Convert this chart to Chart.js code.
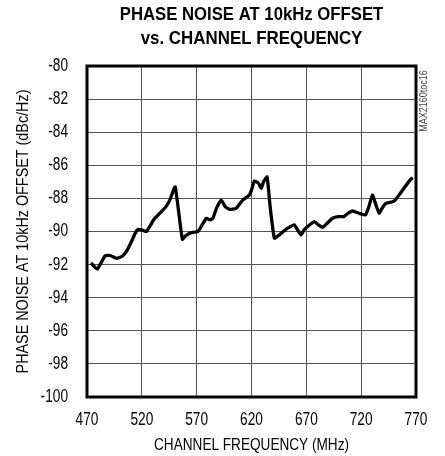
<!DOCTYPE html>
<html>
<head>
<meta charset="utf-8">
<script src="https://cdn.jsdelivr.net/npm/chart.js@4.4.1/dist/chart.umd.min.js"></script>
<style>
html,body{margin:0;padding:0;background:#fff;}
#wrap{position:relative;width:445px;height:456px;}
</style>
</head>
<body>
<div id="wrap"><canvas id="c"></canvas></div>
<script>
const titleLines = ["PHASE NOISE AT 10kHz OFFSET", "vs. CHANNEL FREQUENCY"];
const xTitle = "CHANNEL FREQUENCY (MHz)";
const yTitle = "PHASE NOISE AT 10kHz OFFSET (dBc/Hz)";
const tocLabel = "MAX2160toc16";
const xTicks = [470, 520, 570, 620, 670, 720, 770];
const yTicks = [-100, -98, -96, -94, -92, -90, -88, -86, -84, -82, -80];

const freqMHz = [473.6, 479.4, 486.4, 491, 497, 502, 506, 510.6, 514, 516.7, 520, 524.2, 528, 531.8, 535, 539.4, 542, 545.5, 549.4, 550.5, 553, 557, 560, 563.6, 567, 571.2, 575, 578.8, 582, 584.8, 588, 592.4, 596, 600, 606, 612, 618, 620, 622.7, 626.6, 628.8, 631, 634.2, 637, 640.9, 645.5, 649, 653, 659, 662, 665.2, 668, 671.2, 677.3, 681, 684.9, 689, 694, 699, 704, 708, 712, 718, 724, 727, 730.3, 733, 736.4, 739, 742.5, 748.5, 751, 754.5, 760, 765, 767];
const noiseDbc = [-91.9, -92.27, -91.48, -91.45, -91.62, -91.5, -91.2, -90.6, -90.1, -89.87, -89.9, -90.0, -89.6, -89.2, -89.0, -88.7, -88.5, -88.1, -87.4, -87.3, -88.5, -90.47, -90.25, -90.1, -90.05, -90.0, -89.6, -89.2, -89.3, -89.2, -88.6, -88.1, -88.5, -88.66, -88.6, -88.1, -87.8, -87.5, -86.95, -87.1, -87.4, -87.0, -86.7, -88.5, -90.4, -90.2, -90.0, -89.8, -89.6, -89.9, -90.2, -89.9, -89.7, -89.4, -89.6, -89.75, -89.5, -89.2, -89.1, -89.1, -88.9, -88.76, -88.9, -89.0, -88.5, -87.8, -88.3, -88.9, -88.6, -88.3, -88.2, -88.1, -87.8, -87.3, -86.85, -86.75];

const FONT = "'Liberation Sans', Arial, Helvetica, sans-serif";

// horizontal condensing of canvas text to imitate a condensed typeface
const textScale = {};
textScale[titleLines[0]] = 0.88;
textScale[titleLines[1]] = 0.89;
textScale[xTitle] = 0.80;
textScale[yTitle] = 0.845;
textScale[tocLabel] = 0.9;
const DEFAULT_SCALE = 0.76;
const origFill = CanvasRenderingContext2D.prototype.fillText;
CanvasRenderingContext2D.prototype.fillText = function(text, x, y, maxWidth) {
  const s = (textScale[text] !== undefined) ? textScale[text] : DEFAULT_SCALE;
  this.save();
  this.translate(x, y);
  this.scale(s, 1);
  if (maxWidth !== undefined) origFill.call(this, text, 0, 0, maxWidth / s);
  else origFill.call(this, text, 0, 0);
  this.restore();
};

const points = freqMHz.map((f, i) => ({x: f, y: noiseDbc[i]}));

const extras = {
  id: 'extras',
  afterDraw(chart) {
    const ctx = chart.ctx, a = chart.chartArea;
    ctx.save();
    ctx.strokeStyle = '#000';
    ctx.lineWidth = 3;
    ctx.strokeRect(a.left, a.top, a.right - a.left, a.bottom - a.top);
    ctx.translate(a.right + 8, a.top + 35);
    ctx.rotate(-Math.PI / 2);
    ctx.fillStyle = '#444';
    ctx.font = "10px " + FONT;
    ctx.textAlign = 'center';
    ctx.textBaseline = 'middle';
    ctx.fillText(tocLabel, 0, 0);
    ctx.restore();
  }
};

new Chart(document.getElementById('c'), {
  type: 'scatter',
  data: {
    datasets: [{
      data: points,
      showLine: true,
      borderColor: '#000',
      backgroundColor: '#000',
      borderWidth: 3.3,
      pointRadius: 0,
      tension: 0.15
    }]
  },
  options: {
    responsive: true,
    maintainAspectRatio: false,
    animation: false,
    layout: {padding: {left: 0, right: 29, top: 0, bottom: 0}},
    plugins: {
      legend: {display: false},
      tooltip: {enabled: false},
      title: {
        display: true,
        fullSize: false,
        text: titleLines,
        color: '#000',
        font: {family: FONT, size: 19, weight: 'bold', lineHeight: 1.3},
        padding: {top: 2, bottom: 14.6}
      }
    },
    scales: {
      x: {
        type: 'linear',
        min: 470, max: 770,
        afterBuildTicks(s) { s.ticks = xTicks.map(v => ({value: v})); },
        afterFit(s) { s.height = 59; },
        grid: {color: '#555', lineWidth: 1, drawTicks: false},
        border: {display: false},
        ticks: {color: '#000', font: {family: FONT, size: 18}, padding: 12},
        title: {display: true, text: xTitle, color: '#000', font: {family: FONT, size: 17}, padding: {top: 0, bottom: 0}}
      },
      y: {
        type: 'linear',
        min: -100, max: -80,
        afterBuildTicks(s) { s.ticks = yTicks.map(v => ({value: v})); },
        afterFit(s) { s.width = 87; },
        grid: {color: '#555', lineWidth: 1, drawTicks: false},
        border: {display: false},
        ticks: {color: '#000', font: {family: FONT, size: 18}, padding: 19},
        title: {display: true, text: yTitle, color: '#000', font: {family: FONT, size: 17}, padding: {top: 13, bottom: 0}}
      }
    }
  },
  plugins: [extras]
});
</script>
</body>
</html>
